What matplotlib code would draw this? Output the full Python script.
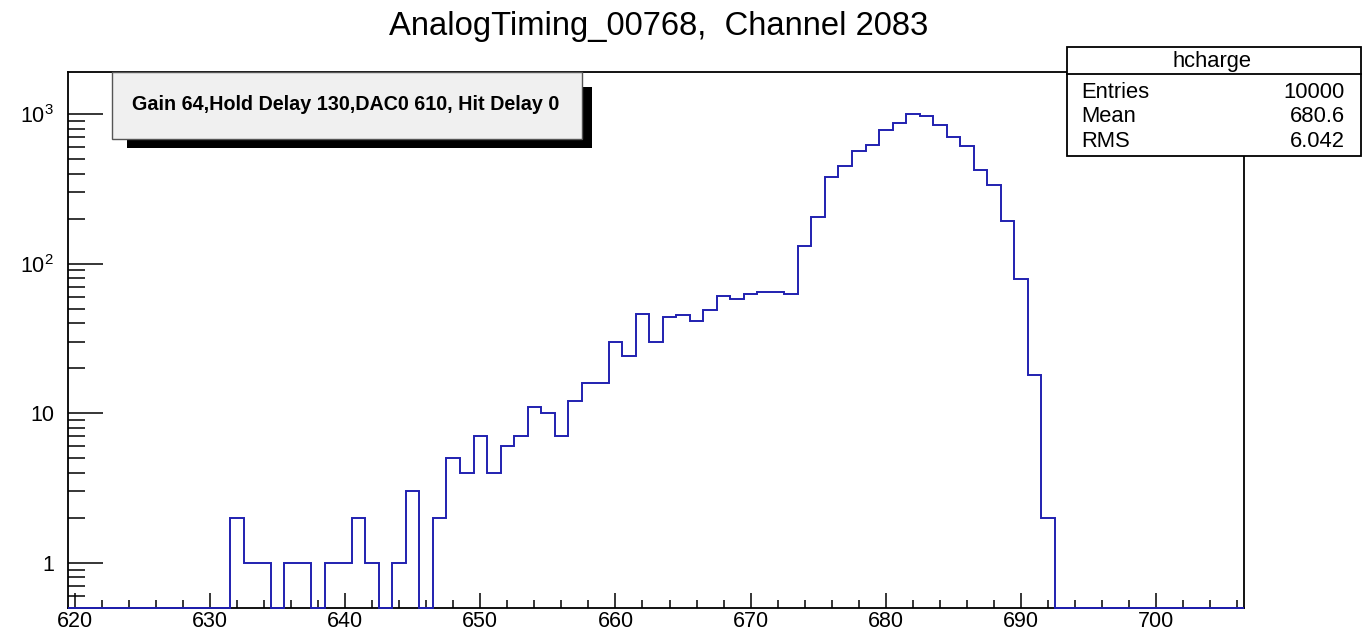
import numpy as np
import matplotlib
matplotlib.use("Agg")
import matplotlib.pyplot as plt
from matplotlib.patches import Rectangle
from matplotlib.ticker import FixedLocator, FixedFormatter, MultipleLocator, LogLocator, NullFormatter

plt.rcParams['font.family'] = ['Liberation Sans', 'DejaVu Sans']
plt.rcParams['mathtext.fontset'] = 'custom'
plt.rcParams['mathtext.rm'] = 'Liberation Sans'

# histogram data (bin width 1, centres 620..706)
bin_centers = np.arange(620, 707)
counts = np.array([
    0, 0, 0, 0, 0, 0, 0, 0, 0, 0, 0, 0,          # 620-631
    2, 1, 1, 0, 1, 1, 0, 1, 1, 2, 1, 0, 1, 3, 0, 2,  # 632-647
    5, 4, 7, 4, 6, 7, 11, 10, 7, 12, 16, 16,     # 648-659
    30, 24, 46, 30, 44, 45, 41, 49, 61, 58, 63, 65, 65, 63,  # 660-673
    131, 205, 380, 451, 570, 622, 787, 873, 1008, 968, 847, 700,  # 674-685
    615, 425, 333, 194, 79, 18, 2,               # 686-692
    0, 0, 0, 0, 0, 0, 0, 0, 0, 0, 0, 0, 0, 0,    # 693-706
])
edges = np.append(bin_centers - 0.5, bin_centers[-1] + 0.5)

title = "AnalogTiming_00768,  Channel 2083"
note = "Gain 64,Hold Delay 130,DAC0 610, Hit Delay 0"
stats_name = "hcharge"
stats_labels = ["Entries", "Mean", "RMS"]
stats_values = ["10000", "680.6", "6.042"]

W, H = 1364, 631
fig = plt.figure(figsize=(W / 100, H / 100), dpi=100)


def fx(px):
    return px / W


def fy(py):
    return 1 - py / H


ax = fig.add_axes([fx(68), fy(607.7), fx(1244) - fx(68), fy(72) - fy(607.7)])
ymin, ymax = 0.5, 1910
ax.set_yscale('log')
ax.stairs(np.where(counts > 0, counts, ymin), edges, baseline=None,
          color='#2020b0', lw=1.4, clip_on=False, zorder=3)
ax.set_xlim(619.5, 706.5)
ax.set_ylim(ymin, ymax)

for s in ax.spines.values():
    s.set_linewidth(1.3)

ax.xaxis.set_major_locator(MultipleLocator(10))
ax.xaxis.set_minor_locator(MultipleLocator(2))
ax.yaxis.set_major_locator(FixedLocator([1, 10, 100, 1000]))
ax.yaxis.set_major_formatter(FixedFormatter(['1', '10', r'$\mathregular{10^{2}}$', r'$\mathregular{10^{3}}$']))
ax.yaxis.set_minor_locator(LogLocator(base=10, subs=np.arange(2, 10), numticks=20))
ax.yaxis.set_minor_formatter(NullFormatter())

ax.tick_params(axis='x', which='major', direction='in', length=11, width=1.1, labelsize=15.5, pad=2.5)
ax.tick_params(axis='x', which='minor', direction='in', length=5.5, width=1.1)
ax.tick_params(axis='y', which='major', direction='in', length=25, width=1.1, labelsize=15.5, pad=10)
ax.tick_params(axis='y', which='minor', direction='in', length=12.5, width=1.1)

fig.text(fx(659), fy(27), title, ha='center', va='center', fontsize=23.6)

# label box with shadow
fig.patches.append(Rectangle((fx(127), fy(148)), fx(592) - fx(127), fy(87) - fy(148),
                             transform=fig.transFigure, facecolor='black', edgecolor='none', zorder=5))
fig.patches.append(Rectangle((fx(112), fy(139)), fx(582) - fx(112), fy(72) - fy(139),
                             transform=fig.transFigure, facecolor='#f0f0f0', edgecolor='#555555',
                             lw=1.0, zorder=6))
fig.text(fx(132), fy(105), note, ha='left', va='center', fontsize=14.2, fontweight='bold', zorder=7)

# stats box
fig.patches.append(Rectangle((fx(1067), fy(156)), fx(1361) - fx(1067), fy(47) - fy(156),
                             transform=fig.transFigure, facecolor='white', edgecolor='black',
                             lw=1.3, zorder=5))
fig.lines.append(plt.Line2D([fx(1067), fx(1361)], [fy(74), fy(74)], transform=fig.transFigure,
                            color='black', lw=1.3, zorder=6))
fig.text(fx(1212), fy(61), stats_name, ha='center', va='center', fontsize=15.8, zorder=7)
for i, (lab, val) in enumerate(zip(stats_labels, stats_values)):
    yy = fy(92.5 + i * 24.5)
    fig.text(fx(1081), yy, lab, ha='left', va='center', fontsize=15.8, zorder=7)
    fig.text(fx(1345), yy, val, ha='right', va='center', fontsize=15.8, zorder=7)

fig.savefig('out.png', dpi=100)
